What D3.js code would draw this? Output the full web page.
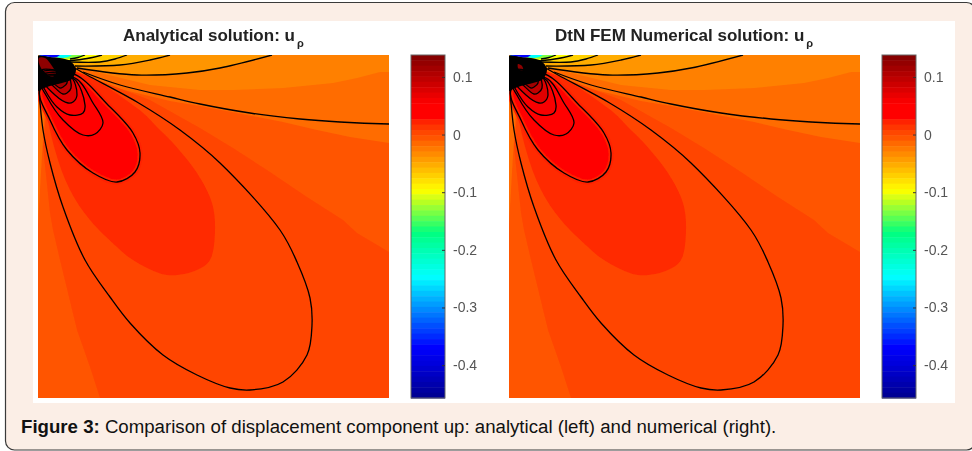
<!DOCTYPE html>
<html>
<head>
<meta charset="utf-8">
<script src="https://cdn.jsdelivr.net/npm/d3@7"></script>
<style>
html, body { margin: 0; padding: 0; background: white; }
svg { display: block; }
</style>
</head>
<body>
<div id="canvas"></div>
<script>
var w = 972;
var h = 451;

// colour bar: value -> colour
var barValues = [-0.457, -0.37, -0.247, -0.171, -0.097, 0.024, 0.026, 0.054, 0.138];
var barColors = ["#00008f", "#0000ff", "#00ffff", "#00ff80", "#ffff00", "#ff2000", "#ff0000", "#ff0000", "#7f0000"];
var barSteps = 64;
var tickValues = [0.1, 0, -0.1, -0.2, -0.3, -0.4];
var tickLabels = ["0.1", "0", "-0.1", "-0.2", "-0.3", "-0.4"];

var titles = ["Analytical solution: u", "DtN FEM Numerical solution: u"];
var subscript = "\u03c1";

// filled regions of the field, points are x,y in plot units (0-351, 0-343)
var bandLevels = [-0.017, -0.005, 0.004];
var bandShapes = [
    [[0,0],[42,13],[112,30],[162,35],[195,35],[245,33],[295,28],[319,23],[342,17],[351,17],[351,343],[0,343]],
    [[20,25],[45,20],[82,34],[132,46],[162,51],[245,67],[279,75],[312,82],[351,88],[351,343],[0,343],[0,170],[4,100],[8,40]],
    [[25,25],[49,21],[112,45],[162,73],[195,93],[229,115],[269,142],[305,165],[319,178],[351,197],[351,343],[62,343],[52,312],[39,275],[30,238],[22,205],[15,175],[12,158],[5,92],[10,40]]
];
var innerBand = [[10,30],[32,16],[99,53],[122,75],[135,88],[159,118],[174,148],[177,175],[172,205],[159,215],[129,220],[95,205],[79,192],[52,165],[32,135],[17,95],[8,50]];
var innerLevel = 0.0185;

// contour lines around the positive lobe
var lobeOuter = [[35,12],[49,20],[99,47],[142,75],[182,108],[242,175],[259,207],[272,243],[274,270],[269,300],[245,327],[212,335],[192,333],[159,320],[125,300],[92,268],[72,242],[47,205],[25,152],[12,108],[5,75],[1,35]];
var lobes = [
    [[32,18],[72,52],[95,78],[102,98],[97,117],[79,127],[55,118],[29,95],[12,65],[2,35]],
    [[37,23],[55,48],[65,68],[57,79],[45,80],[25,65],[9,42],[2,25]],
    [[35,23],[47,50],[45,58],[32,60],[19,52],[7,35],[2,23]],
    [[32,21],[39,40],[35,47],[30,48],[17,40],[4,23]],
    [[29,19],[33,33],[29,38],[25,39],[14,30],[4,20]],
    [[26,17],[29,28],[25,32],[22,33],[12,25],[4,17]],
    [[22,17],[24,25],[19,28],[10,21],[4,15]]
];
var lobeLevels = [0.04, 0.05, 0.058, 0.075, 0.095, 0.115, 0.13];
var haloLevel = 0.0235;

// contour lines that end on the top edge
var topLines = [
    [[39,13],[99,20],[149,18],[182,13],[234,0]],
    [[37,11],[82,10],[112,5],[132,0]],
    [[32,7],[62,7],[77,4],[89,0]],
    [[30,6],[49,3.5],[64,0]],
    [[32,4],[40,2.5],[47,0]]
];
var topLevels = [-0.0395, -0.052, -0.0715, -0.097, -0.135];
var fanShapes = [
    [[25,3],[30,2],[34,0]],
    [[15,2.5],[19,2],[22,0]]
];
var fanLevels = [-0.247, -0.37];
var sideLine = [[45,17],[82,30],[132,42],[162,49],[212,58],[262,64],[302,67],[351,69]];

// the black knot of contours at the corner
var knot = [[0,1],[12,2],[25,3.5],[32,6],[38,14],[34,24],[24,28],[12,31],[4,34],[0,36]];
var coreShapes = [
    [[1,3],[7,3],[14,11],[18,19],[14,22],[8,19],[2,11]],
    [[9,9],[13,11],[14,15],[11,16],[9,13]]
];
var coreLevel = 0.128;

var canvas = d3.select("#canvas")
    .append("svg")
    .attr("width", w)
    .attr("height", h);

var defs = canvas.append("defs");
defs.append("filter").attr("id", "soft")
    .attr("x", "-5%").attr("y", "-5%").attr("width", "110%").attr("height", "110%")
    .append("feGaussianBlur").attr("stdDeviation", 0.7);
defs.append("filter").attr("id", "softText")
    .attr("x", "-5%").attr("y", "-20%").attr("width", "110%").attr("height", "140%")
    .append("feGaussianBlur").attr("stdDeviation", 0.5);

// page frame and white figure
canvas.append("rect")
    .attr("x", 5.5).attr("y", 2.5)
    .attr("width", 970).attr("height", 447.5)
    .attr("rx", 9)
    .attr("fill", "#fbeee6")
    .attr("stroke", "#3a3a3a")
    .attr("stroke-width", 1.2);
canvas.append("rect")
    .attr("x", 33).attr("y", 21)
    .attr("width", 922).attr("height", 382)
    .attr("fill", "white");

var color = d3.scaleLinear().domain(barValues).range(barColors);

function drawPanel(left, barLeft, panelIndex) {
    var x = d3.scaleLinear().domain([0, 351]).range([left, left + 351]);
    var y = d3.scaleLinear().domain([0, 343]).range([55, 398]);

    var closed = d3.line().x(function(d) { return x(d[0]); }).y(function(d) { return y(d[1]); });
    var smooth = d3.line().x(function(d) { return x(d[0]); }).y(function(d) { return y(d[1]); })
        .curve(d3.curveCatmullRom.alpha(0.5));
    var smoothClosed = d3.line().x(function(d) { return x(d[0]); }).y(function(d) { return y(d[1]); })
        .curve(d3.curveCatmullRomClosed.alpha(0.5));

    defs.append("clipPath").attr("id", "plot" + panelIndex)
        .append("rect")
        .attr("x", x(0)).attr("y", y(0))
        .attr("width", x(351) - x(0)).attr("height", y(343) - y(0));

    var blur = canvas.append("g").attr("filter", "url(#soft)");
    var plot = blur.append("g").attr("clip-path", "url(#plot" + panelIndex + ")");

    plot.append("rect")
        .attr("x", x(0)).attr("y", y(0))
        .attr("width", x(351) - x(0)).attr("height", y(343) - y(0))
        .attr("fill", color(-0.028));

    bandShapes.forEach(function(shape, i) {
        plot.append("path")
            .attr("d", closed(shape) + "Z")
            .attr("fill", color(bandLevels[i]));
    });
    plot.append("path")
        .attr("d", smoothClosed(innerBand))
        .attr("fill", color(innerLevel));

    // top fan, widest first
    topLines.forEach(function(line, i) {
        plot.append("path")
            .attr("d", closed([[0, 0]].concat(line)) + "Z")
            .attr("fill", color(topLevels[i]));
    });

    lobes.forEach(function(lobe, i) {
        var p = plot.append("path")
            .attr("d", smoothClosed(lobe))
            .attr("fill", color(lobeLevels[i]));
        if (i === 0) {
            p.attr("stroke", color(haloLevel)).attr("stroke-width", 5);
        }
    });

    plot.append("path")
        .attr("d", smoothClosed(knot))
        .attr("fill", "#060000");
    plot.append("path")
        .attr("d", smoothClosed(coreShapes[panelIndex]))
        .attr("fill", color(coreLevel));

    fanShapes.forEach(function(shape, i) {
        plot.append("path")
            .attr("d", closed([[0, 0]].concat(shape)) + "Z")
            .attr("fill", color(fanLevels[i]));
    });

    // contour lines
    var allLines = [lobeOuter, sideLine].concat(topLines);
    allLines.forEach(function(line) {
        plot.append("path")
            .attr("d", smooth(line))
            .attr("fill", "none")
            .attr("stroke", "#000")
            .attr("stroke-width", 1.3);
    });
    lobes.forEach(function(lobe) {
        plot.append("path")
            .attr("d", smoothClosed(lobe))
            .attr("fill", "none")
            .attr("stroke", "#000")
            .attr("stroke-width", 1.3);
    });

    // colour bar
    var barY = d3.scaleLinear().domain([0.138, -0.457]).range([55, 398]);
    var stepSize = (0.138 + 0.457) / barSteps;
    var bar = blur.append("g");
    bar.selectAll("rect")
        .data(d3.range(barSteps))
        .join("rect")
        .attr("x", barLeft)
        .attr("y", function(d) { return barY(0.138 - d * stepSize); })
        .attr("width", 34)
        .attr("height", function() { return barY(0) - barY(stepSize) + 0.5; })
        .attr("fill", function(d) { return color(0.138 - (d + 0.5) * stepSize); });
    bar.append("rect")
        .attr("x", barLeft).attr("y", 55)
        .attr("width", 34).attr("height", 343)
        .attr("fill", "none")
        .attr("stroke", "#666")
        .attr("stroke-width", 1);

    var axis = d3.axisRight(barY)
        .tickValues(tickValues)
        .tickFormat(function(d, i) { return tickLabels[i]; })
        .tickSize(-3)
        .tickPadding(8);
    var axisG = canvas.append("g")
        .attr("filter", "url(#softText)")
        .attr("transform", "translate(" + (barLeft + 34) + ",0)")
        .call(axis);
    axisG.select(".domain").remove();
    axisG.selectAll("line").attr("stroke", "#333");
    axisG.selectAll("text")
        .attr("fill", "#555")
        .style("font-family", "'Liberation Sans', Arial, sans-serif")
        .style("font-size", "14px");
}

drawPanel(38, 411, 0);
drawPanel(509, 882, 1);

// titles, the subscript hangs below the line
var titleX = [123, 555];
titles.forEach(function(title, i) {
    var t = canvas.append("text")
        .attr("x", titleX[i])
        .attr("y", 41)
        .attr("filter", "url(#softText)")
        .attr("fill", "#222")
        .style("font-family", "'Liberation Sans', Arial, sans-serif")
        .style("font-weight", "bold")
        .style("font-size", "17px")
        .text(title);
    t.append("tspan")
        .attr("dx", 2)
        .attr("dy", 6)
        .style("font-size", "11px")
        .text(subscript);
});

// caption
var caption = canvas.append("text")
    .attr("x", 21)
    .attr("y", 433)
    .attr("fill", "#111")
    .style("font-family", "'Liberation Sans', Arial, sans-serif")
    .style("font-size", "18.65px");
caption.append("tspan").style("font-weight", "bold").text("Figure 3:");
caption.append("tspan").text(" Comparison of displacement component up: analytical (left) and numerical (right).");
</script>
</body>
</html>
